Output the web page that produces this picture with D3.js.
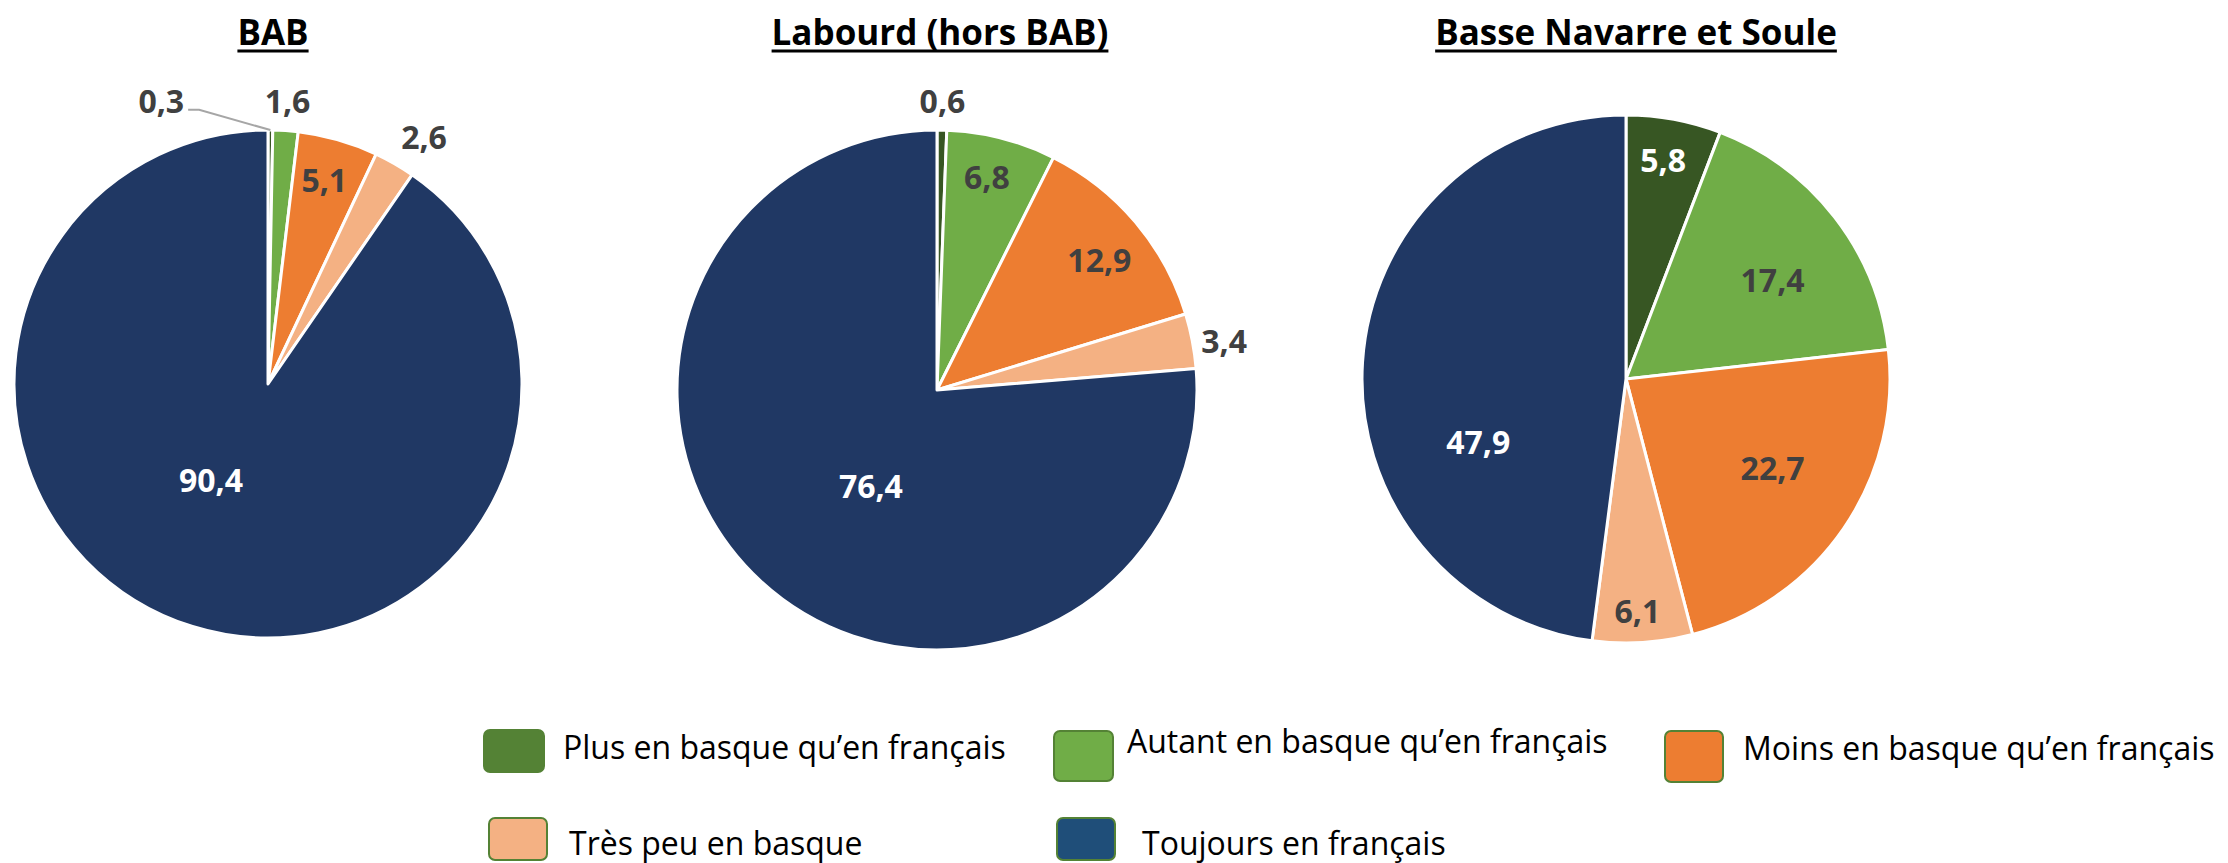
<!DOCTYPE html>
<html>
<head>
<meta charset="utf-8">
<script src="https://cdn.jsdelivr.net/npm/d3@7"></script>
<style>
  body { margin: 0; background: #fff; }
  svg { display: block; }
  text { font-family: "Open Sans", sans-serif; }
</style>
</head>
<body>
<div id="chart"></div>
<script>
// Data
const categories = [
  'Plus en basque qu’en français',
  'Autant en basque qu’en français',
  'Moins en basque qu’en français',
  'Très peu en basque',
  'Toujours en français'
];
const regions = ['BAB', 'Labourd (hors BAB)', 'Basse Navarre et Soule'];
const babValues = [0.3, 1.6, 5.1, 2.6, 90.4];
const labourdValues = [0.6, 6.8, 12.9, 3.4, 76.4];
const navarreValues = [5.8, 17.4, 22.7, 6.1, 47.9];

//Colours
const sliceColors = ['#375623', '#70AD47', '#ED7D31', '#F4B183', '#203864'];
const legendColors = ['#548235', '#70AD47', '#ED7D31', '#F4B183', '#1F4E79'];
const labelDark = '#404040';

//Chart dimensions
const width = 2228;
const height = 863;

// pie layout: centre, radius, and label placement [radius ratio, angle nudge in degrees]
const pieLayout = [
  { cx: 268, cy: 384, r: 254, values: babValues,
    labels: [null, [1.114, 0], [0.833, -0.6], [1.15, 2.4], [0.44, 13.4]], leader: 0 },
  { cx: 937, cy: 390, r: 260, values: labourdValues,
    labels: [[1.11, 0], [0.84, -1.2], [0.80, 1.5], [1.12, 1.3], [0.45, -8.2]], leader: -1 },
  { cx: 1626, cy: 379, r: 264, values: navarreValues,
    labels: [[0.84, -0.8], [0.67, 3.7], [0.65, -3.2], [0.88, 0.8], [0.61, -27.1]], leader: -1 }
];
const titleX = [273, 940, 1636];

// legend layout
const legendLayout = [
  { x: 484, y: 730, w: 60, h: 42, tx: 563, ty: 759 },
  { x: 1054, y: 731, w: 59, h: 50, tx: 1127, ty: 753 },
  { x: 1665, y: 731, w: 58, h: 51, tx: 1743, ty: 760 },
  { x: 489, y: 818, w: 58, h: 42, tx: 569, ty: 855 },
  { x: 1057, y: 818, w: 58, h: 42, tx: 1142, ty: 855 }
];

const frLocale = d3.formatLocale({ decimal: ',', thousands: ' ', grouping: [3], currency: ['', ' €'] });
const fmt = frLocale.format('.1f');

//svg
const svg = d3.select('#chart').append('svg')
  .attr('width', width)
  .attr('height', height);

const pie = d3.pie().sort(null).value(d => d);

function polar(angle, radius) {
  return [radius * Math.sin(angle), -radius * Math.cos(angle)];
}

pieLayout.forEach((p, pi) => {
  const g = svg.append('g')
    .attr('transform', `translate(${p.cx}, ${p.cy})`);

  const arc = d3.arc().innerRadius(0).outerRadius(p.r);
  const arcs = pie(p.values);

  g.selectAll('path.slice')
    .data(arcs)
    .enter().append('path')
    .attr('class', 'slice')
    .attr('d', arc)
    .attr('fill', (d, i) => sliceColors[i])
    .attr('stroke', '#fff')
    .attr('stroke-width', 3)
    .attr('stroke-linejoin', 'round');

  // data labels
  arcs.forEach((d, i) => {
    const mid = (d.startAngle + d.endAngle) / 2;
    if (i === p.leader) {
      const edge = polar(mid, p.r);
      const elbow = polar(-14.1 * Math.PI / 180, p.r * 1.113);
      const start = [elbow[0] - 11, elbow[1]];
      g.append('path')
        .attr('d', d3.line()([start, elbow, edge]))
        .attr('fill', 'none')
        .attr('stroke', '#A6A6A6')
        .attr('stroke-width', 2);
      g.append('text')
        .attr('x', start[0] - 4)
        .attr('y', start[1] - 8)
        .attr('dy', '0.36em')
        .attr('text-anchor', 'end')
        .attr('font-size', 32)
        .attr('font-weight', 700)
        .attr('fill', labelDark)
        .text(fmt(d.data));
      return;
    }
    const spec = p.labels[i];
    const pos = polar(mid + spec[1] * Math.PI / 180, p.r * spec[0]);
    const inside = spec[0] < 1;
    const light = inside && (i === 0 || i === 4);
    g.append('text')
      .attr('x', pos[0])
      .attr('y', pos[1])
      .attr('dy', '0.36em')
      .attr('text-anchor', 'middle')
      .attr('font-size', 32)
      .attr('font-weight', 700)
      .attr('fill', light ? '#FFFFFF' : labelDark)
      .text(fmt(d.data));
  });

  // title
  const title = svg.append('text')
    .attr('x', titleX[pi])
    .attr('y', 45)
    .attr('text-anchor', 'middle')
    .attr('font-size', 35)
    .attr('font-weight', 700)
    .attr('fill', '#000')
    .text(regions[pi]);
  const tw = title.node().getComputedTextLength();
  svg.append('line')
    .attr('x1', titleX[pi] - tw / 2)
    .attr('x2', titleX[pi] + tw / 2)
    .attr('y1', 51)
    .attr('y2', 51)
    .attr('stroke', '#000')
    .attr('stroke-width', 3);
});

//Legend
const legend = svg.append('g').attr('class', 'legend');
legendLayout.forEach((l, i) => {
  legend.append('rect')
    .attr('x', l.x)
    .attr('y', l.y)
    .attr('width', l.w)
    .attr('height', l.h)
    .attr('rx', 6)
    .attr('fill', legendColors[i])
    .attr('stroke', '#548235')
    .attr('stroke-width', 2);
  legend.append('text')
    .attr('x', l.tx)
    .attr('y', l.ty)
    .attr('font-size', 32)
    .attr('fill', '#000')
    .text(categories[i]);
});
</script>
</body>
</html>
